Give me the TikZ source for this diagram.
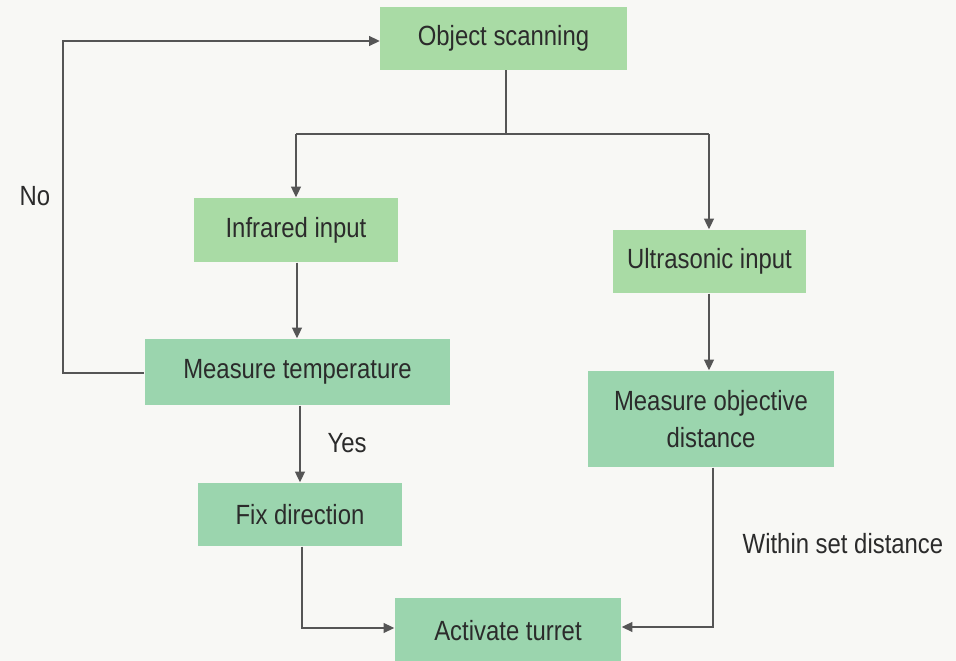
\documentclass[tikz,border=0pt]{standalone}
\usepackage{fontspec}
\setmainfont[FakeStretch=0.86]{Liberation Sans}
\usetikzlibrary{arrows.meta}
\definecolor{boxA}{HTML}{A9DBA5}
\definecolor{boxB}{HTML}{9BD5AE}
\definecolor{ink}{HTML}{2B2B2B}
\definecolor{wire}{HTML}{555555}
\definecolor{paper}{HTML}{F8F8F5}
\begin{document}
\begin{tikzpicture}[x=0.01cm,y=-0.01cm,
  flowbox/.style={fill=#1, draw=none, inner sep=0pt, text=ink, font=\fontsize{7.9}{10.6}\selectfont, align=center},
  lbl/.style={text=ink, font=\fontsize{7.9}{10.6}\selectfont, inner sep=0pt},
  conn/.style={draw=wire, line width=0.35pt},
  arr/.style={conn, -{Triangle[length=3pt,width=2.8pt]}}]
\fill[paper] (0,0) rectangle (956,661);
\useasboundingbox (0,0) rectangle (956,661);

\node[flowbox=boxA, minimum width=2.46cm, minimum height=0.62cm] (scan) at (503.5,38.5) {Object scanning};
\node[flowbox=boxA, minimum width=2.04cm, minimum height=0.64cm] (ir) at (296,230) {Infrared input};
\node[flowbox=boxA, minimum width=1.93cm, minimum height=0.63cm] (us) at (709.5,261.5) {Ultrasonic input};
\node[flowbox=boxB, minimum width=3.05cm, minimum height=0.66cm] (temp) at (297.5,372) {Measure temperature};
\node[flowbox=boxB, minimum width=2.46cm, minimum height=0.96cm] (dist) at (711,419) {Measure objective\\distance};
\node[flowbox=boxB, minimum width=2.04cm, minimum height=0.63cm] (fix) at (300,514.5) {Fix direction};
\node[flowbox=boxB, minimum width=2.26cm, minimum height=0.66cm] (turret) at (508,631) {Activate turret};

\coordinate (split) at (506,134);
\coordinate (splitL) at (296,134);
\coordinate (splitR) at (709,134);
\coordinate (loopB) at (63,373);
\coordinate (loopT) at (63,41);
\coordinate (fixC) at (302,628);
\coordinate (distC) at (713,627);

\draw[conn] (scan.south -| split) -- (split);
\draw[conn] (splitL) -- (splitR);
\draw[arr] (splitL) -- (ir.north -| splitL);
\draw[arr] (splitR) -- (us.north -| splitR);
\draw[arr] (ir.south -| 297,0) -- (temp.north -| 297,0);
\draw[arr] (us.south -| 709,0) -- (dist.north -| 709,0);
\draw[arr] (temp.west |- loopB) -- (loopB) -- (loopT) -- (scan.west |- loopT);
\draw[arr] (temp.south -| 300,0) -- (fix.north -| 300,0);
\draw[arr] (fix.south -| fixC) -- (fixC) -- (turret.west |- fixC);
\draw[arr] (dist.south -| distC) -- (distC) -- (turret.east |- distC);

\node[lbl] (no) at (35,196) {No};
\node[lbl] (yes) at (347,443) {Yes};
\node[lbl] (within) at (843,544) {Within set distance};
\end{tikzpicture}
\end{document}
